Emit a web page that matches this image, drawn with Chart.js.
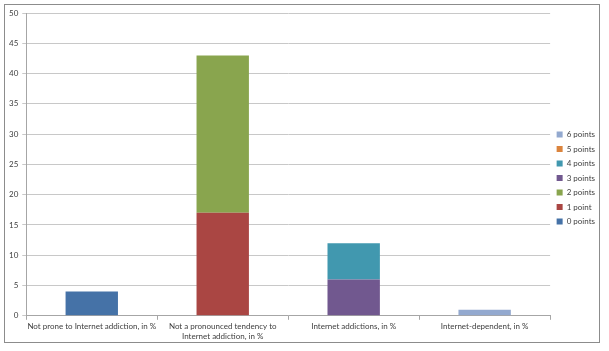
<!DOCTYPE html>
<html>
<head>
<meta charset="utf-8">
<script src="https://cdn.jsdelivr.net/npm/chart.js@4"></script>
<style>
  body { margin: 0; background: #fff; }
  #wrap { position: relative; width: 609px; height: 351px; }
  #frame { position: absolute; left: 4px; top: 4px; width: 596px; height: 339px; border: 1px solid #8c8c8c; box-sizing: border-box; }
  canvas { position: absolute; left: 0; top: 0; }
</style>
</head>
<body>
<div id="wrap">
  <div id="frame"></div>
  <canvas id="myChart" width="609" height="351"></canvas>
</div>
<script>
// categorias do eixo x
const categorias = [
    'Not prone to Internet addiction, in %',
    ['Not a pronounced tendency to', 'Internet addiction, in %'],
    'Internet addictions, in %',
    'Internet-dependent, in %'
];

// series (pontos)
const pontos0 = [4, 0, 0, 0];
const pontos1 = [0, 17, 0, 0];
const pontos2 = [0, 26, 0, 0];
const pontos3 = [0, 0, 6, 0];
const pontos4 = [0, 0, 6, 0];
const pontos5 = [0, 0, 0, 0];
const pontos6 = [0, 0, 0, 1];

const nomes = ['0 points', '1 point', '2 points', '3 points', '4 points', '5 points', '6 points'];
const cores = ['#4572A7', '#AA4643', '#89A54E', '#71588F', '#4198AF', '#DB843D', '#93A9CF'];
const valores = [pontos0, pontos1, pontos2, pontos3, pontos4, pontos5, pontos6];

const yTicks = [0, 5, 10, 15, 20, 25, 30, 35, 40, 45, 50];

const fonte = { family: 'Lato, "Liberation Sans", sans-serif', size: 8 };

const data = {
    labels: categorias,
    datasets: valores.map((v, i) => ({
        label: nomes[i],
        data: v,
        backgroundColor: cores[i],
        borderWidth: 0,
        barPercentage: 0.4,
        categoryPercentage: 1
    }))
};

const config = {
    type: 'bar',
    data: data,
    options: {
        responsive: false,
        animation: false,
        layout: { padding: { left: 5, top: 13, right: 4, bottom: 8 } },
        plugins: {
            legend: {
                position: 'right',
                reverse: true,
                labels: {
                    boxWidth: 6,
                    boxHeight: 6,
                    padding: 6.5,
                    font: fonte,
                    color: '#404040'
                }
            },
            tooltip: { enabled: false }
        },
        scales: {
            x: {
                stacked: true,
                grid: { display: true, drawOnChartArea: false, offset: true, tickLength: 4, color: '#a6a6a6' },
                border: { color: '#a6a6a6' },
                ticks: { font: fonte, color: '#404040', maxRotation: 0, autoSkip: false, padding: 2 }
            },
            y: {
                stacked: true,
                min: 0,
                max: 50,
                afterBuildTicks: axis => { axis.ticks = yTicks.map(v => ({ value: v })); },
                grid: { color: '#c8c8c8', tickLength: 4 },
                border: { display: true, color: '#a6a6a6' },
                ticks: { font: fonte, color: '#404040', padding: 4 }
            }
        }
    }
};

const myChart = new Chart(document.getElementById('myChart'), config);
</script>
</body>
</html>
